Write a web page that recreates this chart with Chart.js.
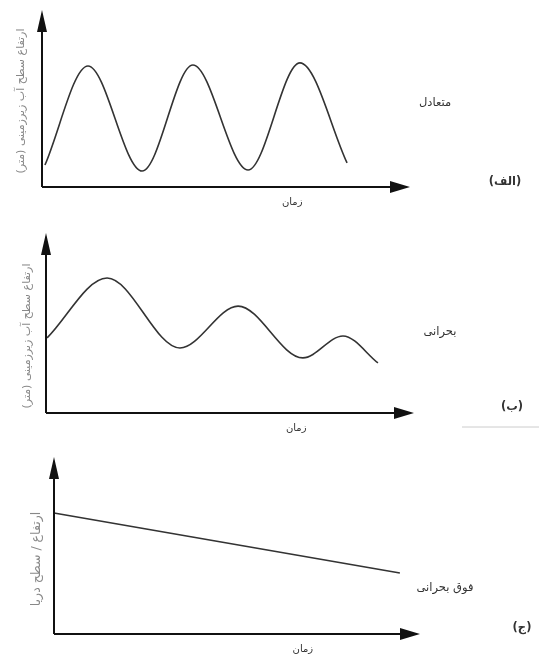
<!DOCTYPE html>
<html lang="fa">
<head>
<meta charset="utf-8">
<script src="https://cdn.jsdelivr.net/npm/chart.js@4.4.1/dist/chart.umd.min.js"></script>
<style>
  html, body { margin: 0; padding: 0; background: #fff; }
  body { width: 539px; height: 659px; position: relative; overflow: hidden; }
  .panel { position: absolute; left: 0; width: 539px; }
</style>
</head>
<body>
<div class="panel" style="top:0;height:220px"><canvas id="chartA"></canvas></div>
<div class="panel" style="top:220px;height:220px"><canvas id="chartB"></canvas></div>
<div class="panel" style="top:440px;height:219px"><canvas id="chartC"></canvas></div>
<script>
// time runs 0..100 along each x axis, level 0..100 up each y axis
const timeA = [0.8, 12.5, 27.2, 41.0, 56.0, 70.1, 82.9];
const levelA = [12.4, 68.4, 9.0, 68.9, 9.6, 70.1, 13.6];

const timeB = [0.3, 16.6, 36.4, 52.2, 69.8, 80.7, 90.2];
const levelB = [41.7, 75.0, 36.1, 59.4, 30.6, 42.8, 27.8];

const timeC = [0, 94.5];
const levelC = [68.4, 34.5];

const timeLabel = 'زمان';
const timeLabelAt = 68;
const levelLabelAB = 'ارتفاع سطح آب زیرزمینی (متر)';
const levelLabelC = 'ارتفاع / سطح دریا';
const stateLabels = ['متعادل', 'بحرانی', 'فوق بحرانی'];
const panelLetters = ['(الف)', '(ب)', '(ج)'];

const faFont = '"DejaVu Sans", sans-serif';

// axes with arrow heads, plus all the labels
const sketchPlugin = {
    id: 'sketch',
    afterDraw(chart) {
        const cfg = chart.options.plugins.sketch;
        const { ctx } = chart;
        const { left, right, top, bottom } = chart.chartArea;
        ctx.save();

        ctx.strokeStyle = '#111';
        ctx.fillStyle = '#111';
        ctx.lineWidth = 2;
        ctx.beginPath();
        ctx.moveTo(left, bottom);
        ctx.lineTo(left, top + 18);
        ctx.moveTo(left, bottom);
        ctx.lineTo(right - 16, bottom);
        ctx.stroke();

        ctx.beginPath();
        ctx.moveTo(left, top);
        ctx.lineTo(left - 5, top + 22);
        ctx.lineTo(left + 5, top + 22);
        ctx.closePath();
        ctx.fill();

        ctx.beginPath();
        ctx.moveTo(right, bottom);
        ctx.lineTo(right - 20, bottom - 6);
        ctx.lineTo(right - 20, bottom + 6);
        ctx.closePath();
        ctx.fill();

        ctx.direction = 'rtl';
        ctx.textAlign = 'center';
        ctx.textBaseline = 'middle';

        // x title
        ctx.fillStyle = '#333';
        ctx.font = '10px ' + faFont;
        ctx.fillText(timeLabel, chart.scales.x.getPixelForValue(timeLabelAt), bottom + 15);

        // y title
        ctx.save();
        ctx.translate(cfg.yTitle.x, cfg.yTitle.y);
        ctx.rotate(-Math.PI / 2);
        ctx.fillStyle = '#888';
        ctx.font = cfg.yTitle.size + 'px ' + faFont;
        ctx.fillText(cfg.yTitle.text, 0, 0);
        ctx.restore();

        // state name and panel letter
        ctx.fillStyle = '#333';
        ctx.font = '11.5px ' + faFont;
        ctx.fillText(cfg.state.text, cfg.state.x, cfg.state.y);
        ctx.font = 'bold 11.5px ' + faFont;
        ctx.fillText(cfg.letter.text, cfg.letter.x, cfg.letter.y);

        if (cfg.rule) {
            ctx.strokeStyle = '#ccc';
            ctx.lineWidth = 1;
            ctx.beginPath();
            ctx.moveTo(cfg.rule.x1, cfg.rule.y);
            ctx.lineTo(cfg.rule.x2, cfg.rule.y);
            ctx.stroke();
        }
        ctx.restore();
    }
};

function makePanel(id, times, levels, padding, sketch) {
    const points = times.map((t, i) => ({ x: t, y: levels[i] }));
    return new Chart(document.getElementById(id), {
        type: 'line',
        data: {
            datasets: [{
                data: points,
                borderColor: '#333',
                borderWidth: 1.6,
                pointRadius: 0,
                cubicInterpolationMode: 'monotone',
                fill: false,
                clip: false
            }]
        },
        options: {
            responsive: true,
            maintainAspectRatio: false,
            animation: false,
            layout: { padding: padding },
            scales: {
                x: { type: 'linear', min: 0, max: 100, display: false },
                y: { min: 0, max: 100, display: false }
            },
            plugins: {
                legend: { display: false },
                tooltip: { enabled: false },
                sketch: sketch
            }
        },
        plugins: [sketchPlugin]
    });
}

makePanel('chartA', timeA, levelA,
    { left: 42, right: 129, top: 10, bottom: 33 },
    {
        yTitle: { text: levelLabelAB, x: 21, y: 101, size: 11 },
        state: { text: stateLabels[0], x: 435, y: 103 },
        letter: { text: panelLetters[0], x: 505, y: 182 }
    });

makePanel('chartB', timeB, levelB,
    { left: 46, right: 125, top: 13, bottom: 27 },
    {
        yTitle: { text: levelLabelAB, x: 27, y: 116, size: 11 },
        state: { text: stateLabels[1], x: 440, y: 112 },
        letter: { text: panelLetters[1], x: 512, y: 187 },
        rule: { x1: 462, x2: 539, y: 207 }
    });

makePanel('chartC', timeC, levelC,
    { left: 54, right: 119, top: 17, bottom: 25 },
    {
        yTitle: { text: levelLabelC, x: 37, y: 119, size: 12.5 },
        state: { text: stateLabels[2], x: 445, y: 148 },
        letter: { text: panelLetters[2], x: 522, y: 188 }
    });
</script>
</body>
</html>
